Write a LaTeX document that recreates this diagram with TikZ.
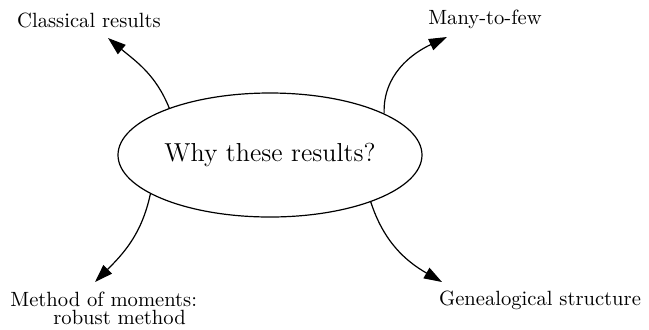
\documentclass[tikz,border=0pt]{standalone}
\usepackage{tikz}
\usetikzlibrary{positioning,arrows.meta,shapes.geometric}

\begin{document}
\begin{tikzpicture}[
    x=0.5pt, y=-0.5pt,
    >={Triangle[length=9pt,width=6pt]},
    cloud/.style={draw, ellipse, line width=0.6pt, inner sep=0pt,
                  minimum width=152pt, minimum height=62pt,
                  font=\fontsize{13}{15}\selectfont},
    lbl/.style={inner sep=0pt, font=\fontsize{10.3}{9}\selectfont},
    arr/.style={->, line width=0.6pt},
]
\useasboundingbox (0,0) rectangle (649,329);

\node[cloud] (why) at (270,155) {Why these results?};

\node[lbl, anchor=base] (classic) at (89,27) {Classical results};
\node[lbl, anchor=base] (many) at (485,24) {Many-to-few};
\node[lbl, anchor=north west, align=left] (moments) at (10,292)
     {Method of moments:\\\hspace*{21.5pt}robust method};
\node[lbl, anchor=base] (genea) at (540,305) {Genealogical structure};

\coordinate (tclassic) at (108,38);
\coordinate (tmany) at (447,37);
\coordinate (tmoments) at (95,282);
\coordinate (tgenea) at (442,282);

\draw[arr] (why.155) to[out=112, in=-40] (tclassic);
\draw[arr] (why.20) to[out=92, in=205] (tmany);
\draw[arr] (why.198) to[out=-102, in=45] (tmoments);
\draw[arr] (why.335) to[out=-72, in=150] (tgenea);
\end{tikzpicture}
\end{document}
